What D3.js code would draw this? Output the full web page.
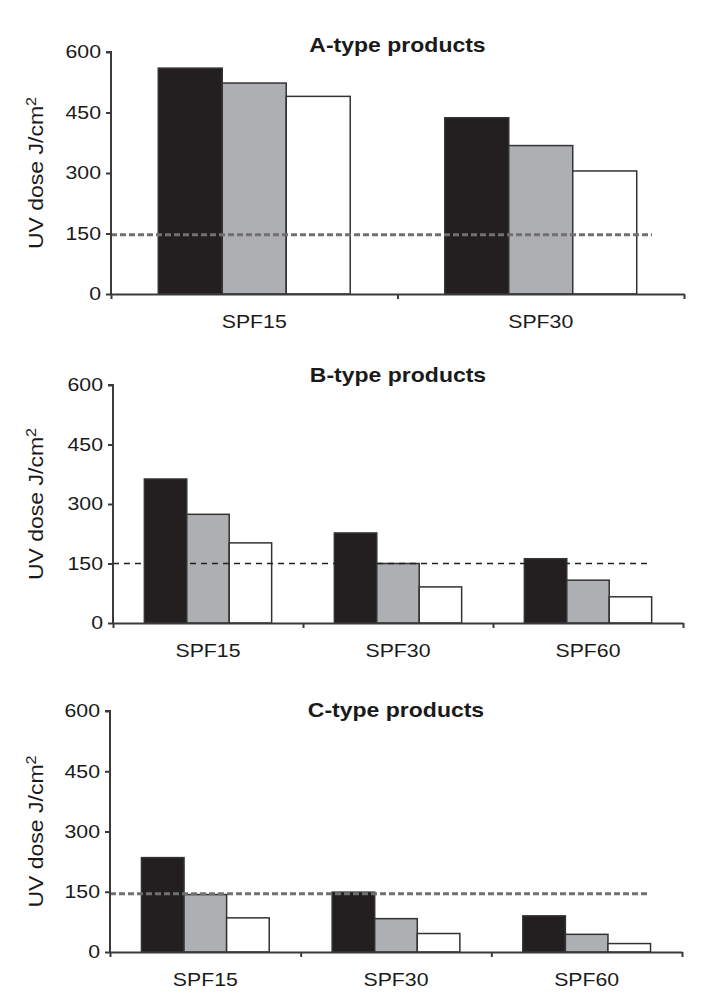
<!DOCTYPE html>
<html>
<head>
<meta charset="utf-8">
<script src="https://cdn.jsdelivr.net/npm/d3@7"></script>
<style>
  body { margin: 0; background: #fff; }
  text { font-family: "Liberation Sans", Arial, sans-serif; fill: #1a1a1a; }
</style>
</head>
<body>
<div id="chart"></div>
<script>
// data
let titles = ["A-type products", "B-type products", "C-type products"];
let catsA = ["SPF15", "SPF30"];
let catsBC = ["SPF15", "SPF30", "SPF60"];
let series = ["s1", "s2", "s3"];
let valuesA = [[560, 523, 490], [437, 368, 305]];
let valuesB = [[363, 274, 202], [227, 150, 91], [162, 108, 66]];
let valuesC = [[235, 143, 85], [149, 83, 46], [90, 44, 21]];
let limits = [147, 150, 145];
let yTicks = [0, 150, 300, 450, 600];

let larg = 708;
let alt = 996;
let stretch = 1.15; // glyphs in the source are a bit wide

let panels = [
    {title: titles[0], cats: catsA,  vals: valuesA, limit: limits[0],
     top: 52,  bottom: 294, left: 111, right: 684, titleY: 52,  dash: "gray"},
    {title: titles[1], cats: catsBC, vals: valuesB, limit: limits[1],
     top: 385, bottom: 623, left: 113, right: 683, titleY: 382, dash: "black"},
    {title: titles[2], cats: catsBC, vals: valuesC, limit: limits[2],
     top: 711, bottom: 952, left: 110, right: 682, titleY: 717, dash: "gray"}
];

let cores = d3.scaleOrdinal()
                .domain(series)
                .range(["#231f20", "#adafb2", "#ffffff"]);

let canvas = d3.select("#chart")
                .append("svg")
                .attr("width", larg)
                .attr("height", alt);

function txt(g, x, y, s, size, anchor, extra) {
    return g.append("text")
        .attr("transform", "translate(" + x + "," + y + ")" + (extra || "") + " scale(" + stretch + ",1)")
        .attr("text-anchor", anchor)
        .style("font-size", size + "px")
        .text(s);
}

panels.forEach(function(p) {
    let g = canvas.append("g");

    let y = d3.scaleLinear()
                .domain([0, 600])
                .range([p.bottom, p.top]);

    let x0 = d3.scaleBand()
                .domain(p.cats)
                .range([p.left, p.right])
                .padding(0);

    let bw = x0.bandwidth();
    let x1 = d3.scaleBand()
                .domain(series)
                .range([bw * 0.165, bw * 0.835])
                .padding(0);

    // bars
    let grupos = g.selectAll(".grp")
                .data(p.cats)
                .enter()
                .append("g")
                .attr("transform", d => "translate(" + x0(d) + ",0)");

    grupos.selectAll("rect")
        .data((d, i) => series.map((s, j) => ({s: s, v: p.vals[i][j]})))
        .enter()
        .append("rect")
        .attr("x", d => x1(d.s))
        .attr("width", x1.bandwidth())
        .attr("y", d => y(d.v))
        .attr("height", d => y(0) - y(d.v))
        .attr("fill", d => cores(d.s))
        .attr("stroke", "#333")
        .attr("stroke-width", 1.5);

    // threshold line
    g.append("line")
        .attr("x1", p.left)
        .attr("x2", p.right - 32)
        .attr("y1", y(p.limit))
        .attr("y2", y(p.limit))
        .attr("stroke", p.dash == "gray" ? "#707070" : "#222")
        .attr("stroke-width", p.dash == "gray" ? 3 : 1.5)
        .attr("stroke-dasharray", p.dash == "gray" ? "6,3" : "6,5");

    // y axis
    let eixoY = d3.axisLeft(y)
                .tickValues(yTicks)
                .tickSize(5)
                .tickFormat("");
    g.append("g")
        .attr("transform", "translate(" + p.left + ",0)")
        .call(eixoY)
        .call(a => a.select(".domain").attr("d", "M-5," + p.top + "H0V" + p.bottom))
        .call(a => a.selectAll("path,line").attr("stroke", "#3a3a3a").attr("stroke-width", 2));

    yTicks.forEach(function(t) {
        txt(g, p.left - 10, y(t), t, 18.5, "end").attr("dy", "0.35em");
    });

    // x axis
    let bordas = p.cats.map(c => x0(c)).concat([p.right]);
    let eixoX = d3.axisBottom(d3.scaleLinear().domain([p.left, p.right]).range([p.left, p.right]))
                .tickValues(bordas)
                .tickSize(5)
                .tickSizeOuter(0)
                .tickFormat("");
    g.append("g")
        .attr("transform", "translate(0," + p.bottom + ")")
        .call(eixoX)
        .call(a => a.selectAll("path,line").attr("stroke", "#3a3a3a").attr("stroke-width", 2));

    p.cats.forEach(function(c) {
        txt(g, x0(c) + bw / 2, p.bottom + 34, c, 18.5, "middle");
    });

    // title
    txt(g, (p.left + p.right) / 2, p.titleY, p.title, 20, "middle")
        .style("font-weight", "bold");

    // y label
    let lab = txt(g, 43, (p.top + p.bottom) / 2, "UV dose J/cm", 20, "middle", " rotate(-90)");
    lab.append("tspan")
        .attr("dy", "-0.5em")
        .style("font-size", "14px")
        .text("2");
});
</script>
</body>
</html>
